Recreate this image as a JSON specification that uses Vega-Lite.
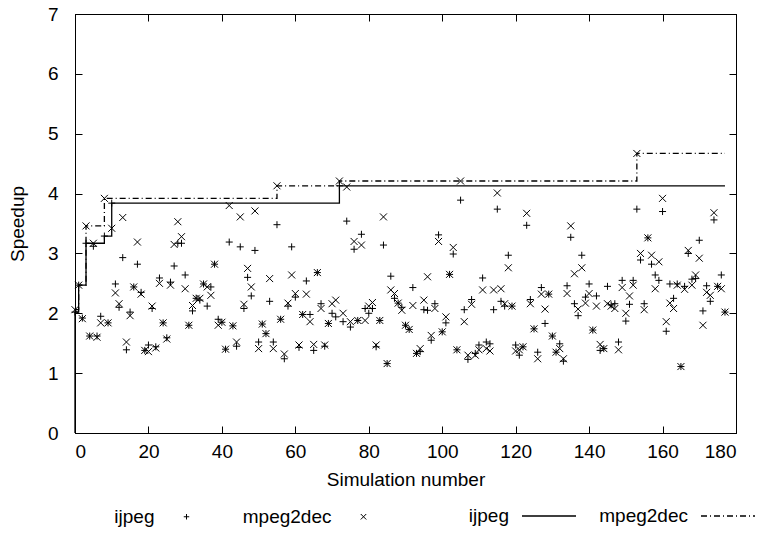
{
  "$schema": "https://vega.github.io/schema/vega-lite/v6.json",
  "width": 661,
  "height": 419,
  "autosize": {"type": "none"},
  "padding": {"left": 75, "top": 14, "right": 23, "bottom": 104},
  "background": "white",
  "datasets": {
    "pts": [
      {"s":0,"ijpeg":2.02,"mpeg2dec":2.06},{"s":1,"ijpeg":2.47,"mpeg2dec":2.47},{"s":2,"ijpeg":1.92,"mpeg2dec":1.91},{"s":3,"ijpeg":3.17,"mpeg2dec":3.46},{"s":4,"ijpeg":1.62,"mpeg2dec":1.62},{"s":5,"ijpeg":3.12,"mpeg2dec":3.17},{"s":6,"ijpeg":1.62,"mpeg2dec":1.60},{"s":7,"ijpeg":1.95,"mpeg2dec":1.84},{"s":8,"ijpeg":3.29,"mpeg2dec":3.92},{"s":9,"ijpeg":1.84,"mpeg2dec":1.84},
      {"s":10,"ijpeg":3.84,"mpeg2dec":3.42},{"s":11,"ijpeg":2.49,"mpeg2dec":2.34},{"s":12,"ijpeg":2.10,"mpeg2dec":2.16},{"s":13,"ijpeg":2.93,"mpeg2dec":3.60},{"s":14,"ijpeg":1.39,"mpeg2dec":1.52},{"s":15,"ijpeg":2.02,"mpeg2dec":1.96},{"s":16,"ijpeg":2.44,"mpeg2dec":2.44},{"s":17,"ijpeg":2.82,"mpeg2dec":3.19},{"s":18,"ijpeg":2.35,"mpeg2dec":2.32},{"s":19,"ijpeg":1.38,"mpeg2dec":1.38},
      {"s":20,"ijpeg":1.47,"mpeg2dec":1.36},{"s":21,"ijpeg":2.08,"mpeg2dec":2.12},{"s":22,"ijpeg":1.44,"mpeg2dec":1.42},{"s":23,"ijpeg":2.59,"mpeg2dec":2.50},{"s":24,"ijpeg":1.84,"mpeg2dec":1.84},{"s":25,"ijpeg":1.59,"mpeg2dec":1.57},{"s":26,"ijpeg":2.52,"mpeg2dec":2.47},{"s":27,"ijpeg":2.79,"mpeg2dec":3.15},{"s":28,"ijpeg":3.17,"mpeg2dec":3.53},{"s":29,"ijpeg":3.17,"mpeg2dec":3.28},
      {"s":30,"ijpeg":2.64,"mpeg2dec":2.41},{"s":31,"ijpeg":1.80,"mpeg2dec":1.80},{"s":32,"ijpeg":2.04,"mpeg2dec":2.13},{"s":33,"ijpeg":2.25,"mpeg2dec":2.25},{"s":34,"ijpeg":2.22,"mpeg2dec":2.25},{"s":35,"ijpeg":2.49,"mpeg2dec":2.49},{"s":36,"ijpeg":2.12,"mpeg2dec":2.44},{"s":37,"ijpeg":2.44,"mpeg2dec":2.30},{"s":38,"ijpeg":2.82,"mpeg2dec":2.82},{"s":39,"ijpeg":1.90,"mpeg2dec":1.80},
      {"s":40,"ijpeg":1.85,"mpeg2dec":1.85},{"s":41,"ijpeg":1.40,"mpeg2dec":1.40},{"s":42,"ijpeg":3.19,"mpeg2dec":3.80},{"s":43,"ijpeg":1.79,"mpeg2dec":1.79},{"s":44,"ijpeg":1.45,"mpeg2dec":1.52},{"s":45,"ijpeg":3.11,"mpeg2dec":3.61},{"s":46,"ijpeg":2.08,"mpeg2dec":2.15},{"s":47,"ijpeg":2.60,"mpeg2dec":2.75},{"s":48,"ijpeg":2.29,"mpeg2dec":2.44},{"s":49,"ijpeg":3.05,"mpeg2dec":3.71},
      {"s":50,"ijpeg":1.52,"mpeg2dec":1.41},{"s":51,"ijpeg":1.82,"mpeg2dec":1.82},{"s":52,"ijpeg":1.66,"mpeg2dec":1.66},{"s":53,"ijpeg":2.20,"mpeg2dec":2.58},{"s":54,"ijpeg":1.52,"mpeg2dec":1.41},{"s":55,"ijpeg":3.48,"mpeg2dec":4.13},{"s":56,"ijpeg":1.90,"mpeg2dec":1.90},{"s":57,"ijpeg":1.24,"mpeg2dec":1.32},{"s":58,"ijpeg":2.12,"mpeg2dec":2.17},{"s":59,"ijpeg":3.11,"mpeg2dec":2.64},
      {"s":60,"ijpeg":2.27,"mpeg2dec":2.33},{"s":61,"ijpeg":1.43,"mpeg2dec":1.47},{"s":62,"ijpeg":1.98,"mpeg2dec":1.98},{"s":63,"ijpeg":2.54,"mpeg2dec":2.32},{"s":64,"ijpeg":1.98,"mpeg2dec":1.86},{"s":65,"ijpeg":1.38,"mpeg2dec":1.48},{"s":66,"ijpeg":2.68,"mpeg2dec":2.68},{"s":67,"ijpeg":2.16,"mpeg2dec":2.08},{"s":68,"ijpeg":1.45,"mpeg2dec":1.47},{"s":69,"ijpeg":1.83,"mpeg2dec":1.83},
      {"s":70,"ijpeg":2.00,"mpeg2dec":2.16},{"s":71,"ijpeg":1.94,"mpeg2dec":2.22},{"s":72,"ijpeg":4.13,"mpeg2dec":4.21},{"s":73,"ijpeg":1.86,"mpeg2dec":2.00},{"s":74,"ijpeg":3.54,"mpeg2dec":4.11},{"s":75,"ijpeg":1.77,"mpeg2dec":1.86},{"s":76,"ijpeg":3.07,"mpeg2dec":3.20},{"s":77,"ijpeg":1.88,"mpeg2dec":1.88},{"s":78,"ijpeg":3.32,"mpeg2dec":3.14},{"s":79,"ijpeg":2.08,"mpeg2dec":1.88},
      {"s":80,"ijpeg":2.00,"mpeg2dec":2.12},{"s":81,"ijpeg":2.08,"mpeg2dec":2.18},{"s":82,"ijpeg":1.44,"mpeg2dec":1.47},{"s":83,"ijpeg":1.88,"mpeg2dec":1.88},{"s":84,"ijpeg":3.14,"mpeg2dec":3.61},{"s":85,"ijpeg":1.16,"mpeg2dec":1.16},{"s":86,"ijpeg":2.62,"mpeg2dec":2.39},{"s":87,"ijpeg":2.25,"mpeg2dec":2.33},{"s":88,"ijpeg":2.17,"mpeg2dec":2.17},{"s":89,"ijpeg":2.10,"mpeg2dec":2.05},
      {"s":90,"ijpeg":1.80,"mpeg2dec":1.80},{"s":91,"ijpeg":1.73,"mpeg2dec":1.73},{"s":92,"ijpeg":2.43,"mpeg2dec":2.13},{"s":93,"ijpeg":1.33,"mpeg2dec":1.33},{"s":94,"ijpeg":1.36,"mpeg2dec":1.41},{"s":95,"ijpeg":2.06,"mpeg2dec":2.22},{"s":96,"ijpeg":2.05,"mpeg2dec":2.61},{"s":97,"ijpeg":1.55,"mpeg2dec":1.63},{"s":98,"ijpeg":2.16,"mpeg2dec":2.08},{"s":99,"ijpeg":3.31,"mpeg2dec":3.20},
      {"s":100,"ijpeg":1.69,"mpeg2dec":1.69},{"s":101,"ijpeg":1.84,"mpeg2dec":1.94},{"s":102,"ijpeg":2.65,"mpeg2dec":2.65},{"s":103,"ijpeg":2.99,"mpeg2dec":3.10},{"s":104,"ijpeg":1.39,"mpeg2dec":1.39},{"s":105,"ijpeg":3.89,"mpeg2dec":4.21},{"s":106,"ijpeg":2.06,"mpeg2dec":1.86},{"s":107,"ijpeg":1.23,"mpeg2dec":1.30},{"s":108,"ijpeg":2.23,"mpeg2dec":2.15},{"s":109,"ijpeg":1.33,"mpeg2dec":1.30},
      {"s":110,"ijpeg":1.47,"mpeg2dec":1.39},{"s":111,"ijpeg":2.59,"mpeg2dec":2.39},{"s":112,"ijpeg":1.52,"mpeg2dec":1.41},{"s":113,"ijpeg":1.49,"mpeg2dec":1.37},{"s":114,"ijpeg":2.06,"mpeg2dec":2.39},{"s":115,"ijpeg":3.74,"mpeg2dec":4.01},{"s":116,"ijpeg":2.20,"mpeg2dec":2.41},{"s":117,"ijpeg":2.12,"mpeg2dec":2.16},{"s":118,"ijpeg":2.97,"mpeg2dec":2.76},{"s":119,"ijpeg":2.12,"mpeg2dec":2.12},
      {"s":120,"ijpeg":1.47,"mpeg2dec":1.37},{"s":121,"ijpeg":1.30,"mpeg2dec":1.39},{"s":122,"ijpeg":1.44,"mpeg2dec":1.44},{"s":123,"ijpeg":3.47,"mpeg2dec":3.67},{"s":124,"ijpeg":2.23,"mpeg2dec":2.16},{"s":125,"ijpeg":1.74,"mpeg2dec":1.74},{"s":126,"ijpeg":1.35,"mpeg2dec":1.24},{"s":127,"ijpeg":2.43,"mpeg2dec":2.32},{"s":128,"ijpeg":1.83,"mpeg2dec":2.07},{"s":129,"ijpeg":2.32,"mpeg2dec":2.32},
      {"s":130,"ijpeg":1.62,"mpeg2dec":1.62},{"s":131,"ijpeg":1.35,"mpeg2dec":1.35},{"s":132,"ijpeg":1.49,"mpeg2dec":1.41},{"s":133,"ijpeg":1.20,"mpeg2dec":1.24},{"s":134,"ijpeg":2.46,"mpeg2dec":2.33},{"s":135,"ijpeg":3.27,"mpeg2dec":3.46},{"s":136,"ijpeg":2.16,"mpeg2dec":2.66},{"s":137,"ijpeg":1.96,"mpeg2dec":2.07},{"s":138,"ijpeg":2.97,"mpeg2dec":2.76},{"s":139,"ijpeg":2.27,"mpeg2dec":2.17},
      {"s":140,"ijpeg":2.49,"mpeg2dec":2.33},{"s":141,"ijpeg":1.72,"mpeg2dec":1.72},{"s":142,"ijpeg":2.29,"mpeg2dec":2.12},{"s":143,"ijpeg":1.38,"mpeg2dec":1.48},{"s":144,"ijpeg":1.41,"mpeg2dec":1.41},{"s":145,"ijpeg":2.45,"mpeg2dec":2.16},{"s":146,"ijpeg":2.14,"mpeg2dec":2.12},{"s":147,"ijpeg":2.16,"mpeg2dec":2.08},{"s":148,"ijpeg":1.52,"mpeg2dec":1.39},{"s":149,"ijpeg":2.55,"mpeg2dec":2.43},
      {"s":150,"ijpeg":1.87,"mpeg2dec":2.00},{"s":151,"ijpeg":2.15,"mpeg2dec":2.29},{"s":152,"ijpeg":2.55,"mpeg2dec":2.47},{"s":153,"ijpeg":3.74,"mpeg2dec":4.67},{"s":154,"ijpeg":2.89,"mpeg2dec":3.00},{"s":155,"ijpeg":2.16,"mpeg2dec":2.06},{"s":156,"ijpeg":3.26,"mpeg2dec":3.26},{"s":157,"ijpeg":2.82,"mpeg2dec":2.97},{"s":158,"ijpeg":2.64,"mpeg2dec":2.41},{"s":159,"ijpeg":2.55,"mpeg2dec":2.86},
      {"s":160,"ijpeg":3.70,"mpeg2dec":3.92},{"s":161,"ijpeg":1.70,"mpeg2dec":1.86},{"s":162,"ijpeg":2.49,"mpeg2dec":2.17},{"s":163,"ijpeg":2.25,"mpeg2dec":2.08},{"s":164,"ijpeg":2.49,"mpeg2dec":2.47},{"s":165,"ijpeg":1.11,"mpeg2dec":1.11},{"s":166,"ijpeg":2.45,"mpeg2dec":2.40},{"s":167,"ijpeg":3.00,"mpeg2dec":3.05},{"s":168,"ijpeg":2.57,"mpeg2dec":2.47},{"s":169,"ijpeg":2.58,"mpeg2dec":2.64},
      {"s":170,"ijpeg":3.22,"mpeg2dec":2.92},{"s":171,"ijpeg":2.04,"mpeg2dec":1.80},{"s":172,"ijpeg":2.46,"mpeg2dec":2.35},{"s":173,"ijpeg":2.20,"mpeg2dec":2.30},{"s":174,"ijpeg":3.56,"mpeg2dec":3.68},{"s":175,"ijpeg":2.45,"mpeg2dec":2.45},{"s":176,"ijpeg":2.64,"mpeg2dec":2.41},{"s":177,"ijpeg":2.02,"mpeg2dec":2.02}
    ],
    "steps": [
      {"i":0,"s":0,"best":0,"line":"ijpeg"},{"i":1,"s":0,"best":2.02,"line":"ijpeg"},{"i":2,"s":1,"best":2.47,"line":"ijpeg"},{"i":3,"s":3,"best":3.17,"line":"ijpeg"},{"i":4,"s":8,"best":3.29,"line":"ijpeg"},{"i":5,"s":10,"best":3.84,"line":"ijpeg"},{"i":6,"s":72,"best":4.13,"line":"ijpeg"},{"i":7,"s":177,"best":4.13,"line":"ijpeg"},
      {"i":0,"s":0,"best":2.06,"line":"mpeg2dec"},{"i":1,"s":1,"best":2.47,"line":"mpeg2dec"},{"i":2,"s":3,"best":3.46,"line":"mpeg2dec"},{"i":3,"s":8,"best":3.92,"line":"mpeg2dec"},{"i":4,"s":55,"best":4.13,"line":"mpeg2dec"},{"i":5,"s":72,"best":4.21,"line":"mpeg2dec"},{"i":6,"s":153,"best":4.67,"line":"mpeg2dec"},{"i":7,"s":177,"best":4.67,"line":"mpeg2dec"}
    ]
  },
  "layer": [
    {
      "data": {"name": "pts"},
      "transform": [{"fold": ["ijpeg", "mpeg2dec"], "as": ["series", "speedup"]}],
      "mark": {"type": "point", "filled": false, "color": "black", "strokeWidth": 1, "size": 49, "opacity": 1},
      "encoding": {
        "x": {"field": "s", "type": "quantitative",
              "scale": {"domain": [0, 180], "nice": false, "zero": false},
              "axis": {"orient": "bottom", "values": [0,20,40,60,80,100,120,140,160,180], "title": "Simulation number", "labelPadding": 16, "titlePadding": 9}},
        "y": {"field": "speedup", "type": "quantitative",
              "scale": {"domain": [0, 7], "nice": false},
              "axis": {"orient": "left", "values": [0,1,2,3,4,5,6,7], "title": "Speedup", "labelPadding": 24, "titlePadding": 20}},
        "shape": {"field": "series", "type": "nominal",
                  "scale": {"domain": ["ijpeg", "mpeg2dec"], "range": ["M-1,0L1,0M0,-1L0,1", "M-1,-1L1,1M-1,1L1,-1"]},
                  "legend": {"orient": "none", "legendX": 102, "legendY": 493, "direction": "horizontal", "title": null,
                             "labelAlign": "right", "labelOffset": -41.5, "symbolSize": 30, "columnPadding": 50,
                             "symbolStrokeColor": "black", "symbolStrokeWidth": 1, "padding": 0}}
      }
    },
    {
      "data": {"name": "steps"},
      "mark": {"type": "line", "interpolate": "step-after", "color": "black", "strokeWidth": 1.3},
      "encoding": {
        "x": {"field": "s", "type": "quantitative", "axis": {"orient": "top", "values": [0,20,40,60,80,100,120,140,160,180], "labels": false, "title": null}},
        "y": {"field": "best", "type": "quantitative", "axis": {"orient": "right", "values": [0,1,2,3,4,5,6,7], "labels": false, "title": null}},
        "order": {"field": "i", "type": "quantitative"},
        "strokeDash": {"field": "line", "type": "nominal",
                       "scale": {"domain": ["ijpeg", "mpeg2dec"], "range": [[1, 0], [6, 3, 1, 3]]},
                       "legend": {"orient": "none", "legendX": 446, "legendY": 474, "direction": "horizontal", "title": null,
                                  "labelAlign": "right", "labelOffset": -68, "symbolSize": 2916, "columnPadding": 20,
                                  "symbolStrokeColor": "black", "symbolStrokeWidth": 1.3, "padding": 0}}
      }
    }
  ],
  "resolve": {"axis": {"x": "independent", "y": "independent"}, "legend": {"shape": "independent", "strokeDash": "independent"}},
  "config": {
    "view": {"stroke": "black", "strokeWidth": 1},
    "font": "Liberation Sans",
    "axis": {"grid": false, "domainColor": "black", "tickColor": "black", "labelColor": "black", "titleColor": "black",
             "labelFont": "Liberation Sans", "titleFont": "Liberation Sans", "labelFontSize": 19, "titleFontSize": 19,
             "titleFontWeight": "normal", "tickSize": -7, "tickWidth": 1, "domainWidth": 1},
    "legend": {"labelFont": "Liberation Sans", "labelFontSize": 19, "labelColor": "black", "labelLimit": 300}
  }
}
